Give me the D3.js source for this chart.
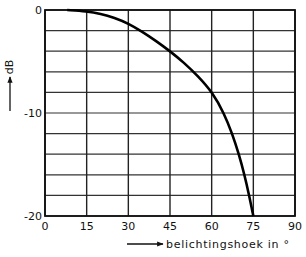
<!DOCTYPE html>
<html>
<head>
<meta charset="utf-8">
<script src="https://cdn.jsdelivr.net/npm/d3@7"></script>
<style>
  body { margin: 0; background: #fff; }
  text { font-family: "DejaVu Sans", sans-serif; fill: #111; }
</style>
</head>
<body>
<div id="chart"></div>
<script>
// curve: angle (degrees) and attenuation (dB)
const angles = [8, 15, 20, 25, 30, 35, 40, 45, 50, 55, 60.3, 64.4, 67.4, 69.8, 71.8, 73.5, 75];
const decibels = [0, -0.12, -0.35, -0.75, -1.3, -2.1, -3.0, -4.0, -5.1, -6.4, -8.0, -10.0, -12.0, -14.0, -16.0, -18.0, -20.0];

const xTicks = [0, 15, 30, 45, 60, 75, 90];
const yTicks = [0, -10, -20];
const yGrid = [0, -2, -4, -6, -8, -10, -12, -14, -16, -18, -20];

function run_visualization() {
    const margin = {top: 10, right: 11, bottom: 41, left: 45};
    const width = 306 - margin.left - margin.right;
    const height = 257 - margin.top - margin.bottom;

    const svg = d3.select("#chart")
        .append("svg")
        .attr("width", 306)
        .attr("height", 257)
        .append("g")
        .attr("transform", `translate(${margin.left},${margin.top})`);

    const x = d3.scaleLinear().domain([0, 90]).range([0, width]);
    const y = d3.scaleLinear().domain([0, -20]).range([0, height]);

    // grid
    svg.selectAll(".hgrid")
        .data(yGrid)
        .enter()
        .append("line")
        .attr("x1", 0).attr("x2", width)
        .attr("y1", d => y(d)).attr("y2", d => y(d))
        .attr("stroke", "#333").attr("stroke-width", 1.2);

    svg.selectAll(".vgrid")
        .data(xTicks)
        .enter()
        .append("line")
        .attr("x1", d => x(d)).attr("x2", d => x(d))
        .attr("y1", 0).attr("y2", height)
        .attr("stroke", "#222").attr("stroke-width", 1.4);

    // frame
    svg.append("rect")
        .attr("width", width).attr("height", height)
        .attr("fill", "none").attr("stroke", "#111").attr("stroke-width", 1.8);

    // curve
    const line = d3.line()
        .x((d, i) => x(angles[i]))
        .y(d => y(d))
        .curve(d3.curveBasis);

    svg.append("path")
        .datum(decibels)
        .attr("fill", "none")
        .attr("stroke", "#000")
        .attr("stroke-width", 2.6)
        .attr("d", line);

    // tick labels
    svg.selectAll(".xlab")
        .data(xTicks)
        .enter()
        .append("text")
        .attr("x", d => x(d))
        .attr("y", height + 14)
        .attr("text-anchor", "middle")
        .attr("font-size", 11)
        .text(d => d);

    svg.selectAll(".ylab")
        .data(yTicks)
        .enter()
        .append("text")
        .attr("x", -3)
        .attr("y", d => y(d) + 4)
        .attr("text-anchor", "end")
        .attr("font-size", 11)
        .text(d => d);

    // y title with arrow
    svg.append("text")
        .attr("transform", `translate(${-32},${57}) rotate(-90)`)
        .attr("text-anchor", "middle")
        .attr("font-size", 11)
        .text("dB");

    const defs = svg.append("defs");
    defs.append("marker")
        .attr("id", "head")
        .attr("viewBox", "0 0 10 10")
        .attr("refX", 9).attr("refY", 5)
        .attr("markerWidth", 5).attr("markerHeight", 5)
        .attr("orient", "auto")
        .append("path")
        .attr("d", "M0,1 L10,5 L0,9 Z")
        .attr("fill", "#111");

    svg.append("line")
        .attr("x1", -35).attr("x2", -35)
        .attr("y1", 101).attr("y2", 67)
        .attr("stroke", "#111").attr("stroke-width", 1.3)
        .attr("marker-end", "url(#head)");

    // x title with arrow
    svg.append("line")
        .attr("x1", 82).attr("x2", 118)
        .attr("y1", height + 28).attr("y2", height + 28)
        .attr("stroke", "#111").attr("stroke-width", 1.3)
        .attr("marker-end", "url(#head)");

    svg.append("text")
        .attr("x", 121)
        .attr("y", height + 32)
        .attr("font-size", 11)
        .attr("textLength", 123)
        .attr("lengthAdjust", "spacing")
        .text("belichtingshoek  in \u00b0");
}

run_visualization();
</script>
</body>
</html>
